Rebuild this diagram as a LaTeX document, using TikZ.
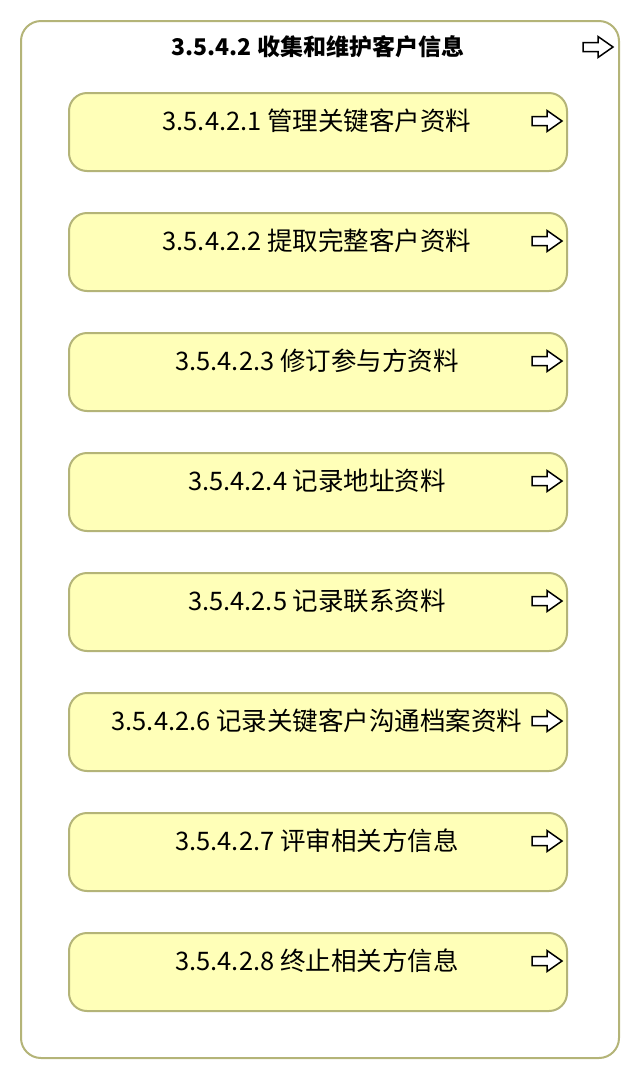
\documentclass[tikz,border=0pt]{standalone}
\usepackage{fontspec}
\newfontfamily\cjk{Noto Sans CJK SC}
\definecolor{boxfill}{HTML}{FFFFB8}
\definecolor{boxline}{HTML}{B4B478}
\tikzset{
  outerbox/.style={draw=boxline, line width=2pt, fill=white, rounded corners=20pt},
  taskbox/.style={draw=boxline, line width=2pt, fill=boxfill, rounded corners=18pt,
    minimum width=498pt, minimum height=78pt, inner sep=0pt},
  tasklabel/.style={font=\cjk\fontsize{25.5}{28}\selectfont, inner sep=0pt, anchor=center},
  titlelabel/.style={font=\cjk\bfseries\fontsize{23}{26}\selectfont, inner sep=0pt, anchor=center},
  harrow/.pic={\draw[line width=1.5pt, fill=white, line join=miter]
    (-15,-4.5) -- (0,-4.5) -- (0,-10.5) -- (15,0) -- (0,10.5) -- (0,4.5) -- (-15,4.5) -- cycle;}
}
\begin{document}
\begin{tikzpicture}[x=1pt,y=-1pt]
\useasboundingbox (0,0) rectangle (640,1080);
\node[outerbox, minimum width=598pt, minimum height=1037pt, inner sep=0pt] (outer) at (320,539.5) {};
\node[titlelabel] (title) at (318,47) {3.5.4.2 收集和维护客户信息};
\pic at (598,47) {harrow};
\foreach \i/\t in {0/{3.5.4.2.1 管理关键客户资料},
                   1/{3.5.4.2.2 提取完整客户资料},
                   2/{3.5.4.2.3 修订参与方资料},
                   3/{3.5.4.2.4 记录地址资料},
                   4/{3.5.4.2.5 记录联系资料},
                   5/{3.5.4.2.6 记录关键客户沟通档案资料},
                   6/{3.5.4.2.7 评审相关方信息},
                   7/{3.5.4.2.8 终止相关方信息}}{
  \pgfmathsetmacro\top{93+120*\i}
  \node[taskbox] (box\i) at (318,\top+39) {};
  \node[tasklabel] (lab\i) at (317,\top+28) {\t};
  \pic at (547,\top+28) {harrow};
}
\end{tikzpicture}
\end{document}
